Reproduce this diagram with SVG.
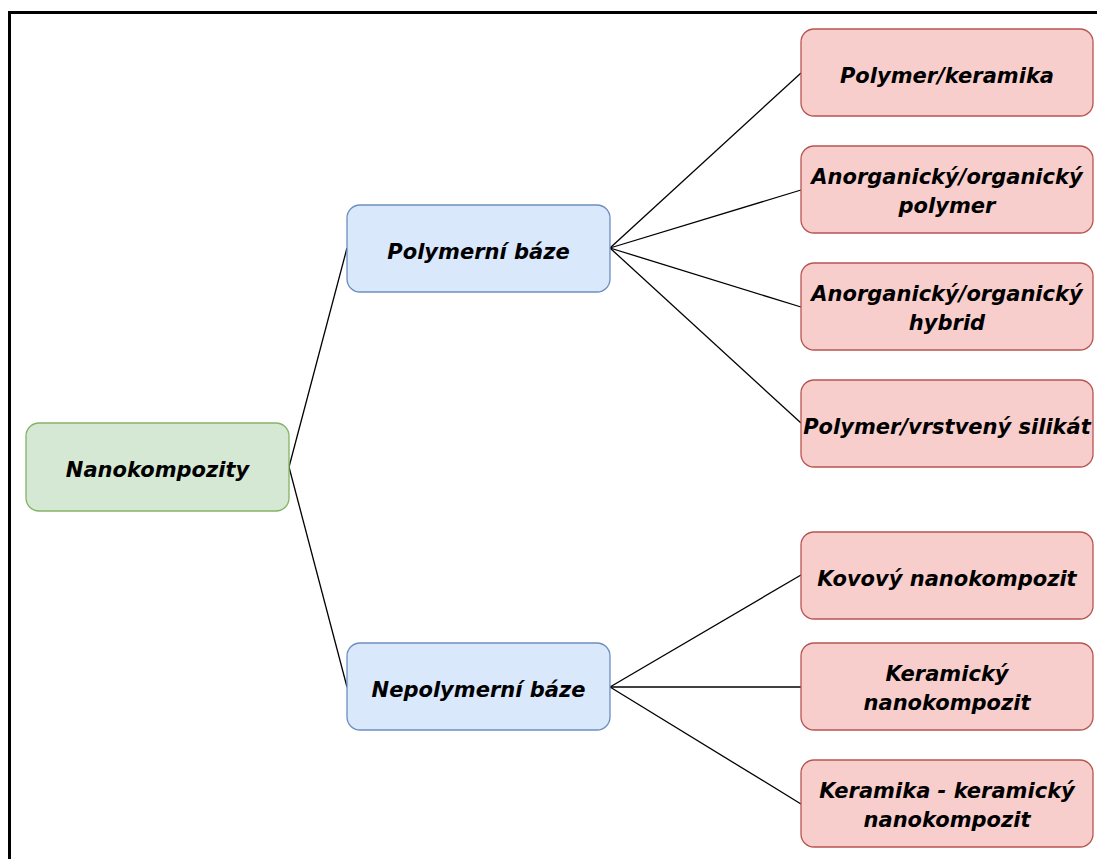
<svg xmlns="http://www.w3.org/2000/svg" width="1097" height="859" viewBox="0 0 1097 859">
<style>
text{font-family:"DejaVu Sans",Verdana,sans-serif;font-weight:bold;font-style:italic;font-size:21px;text-anchor:middle;fill:#000}
.g{fill:#d5e8d4;stroke:#82b366;stroke-width:1.3}
.b{fill:#dae8fc;stroke:#6c8ebf;stroke-width:1.3}
.r{fill:#f8cecc;stroke:#b85450;stroke-width:1.3}
.c line{stroke:#000;stroke-width:1.3}
</style>
<rect x="0" y="0" width="1097" height="859" fill="#fff"/>
<rect x="9.5" y="12.5" width="1100" height="860" fill="none" stroke="#000" stroke-width="3"/>
<g class="c" id="connectors">
<line x1="289" y1="467" x2="347" y2="248"/>
<line x1="289" y1="467" x2="347" y2="687"/>
<line x1="610" y1="248" x2="801" y2="73"/>
<line x1="610" y1="248" x2="801" y2="190"/>
<line x1="610" y1="248" x2="801" y2="307"/>
<line x1="610" y1="248" x2="801" y2="423"/>
<line x1="610" y1="687" x2="801" y2="575"/>
<line x1="610" y1="687" x2="801" y2="687"/>
<line x1="610" y1="687" x2="801" y2="804"/>
</g>
<g id="n-nano"><rect class="g" x="26" y="423" width="263" height="88" rx="13"/><text x="157.5" y="477">Nanokompozity</text></g>
<g id="n-poly"><rect class="b" x="347" y="205" width="263" height="87" rx="13"/><text x="478.5" y="259">Polymerní báze</text></g>
<g id="n-nepoly"><rect class="b" x="347" y="643" width="263" height="87" rx="13"/><text x="478.5" y="697">Nepolymerní báze</text></g>
<g id="n-pk"><rect class="r" x="801" y="29" width="292" height="87" rx="13"/><text x="947" y="83">Polymer/keramika</text></g>
<g id="n-aop"><rect class="r" x="801" y="146" width="292" height="87" rx="13"/><text x="947" y="184">Anorganický/organický</text><text x="947" y="213">polymer</text></g>
<g id="n-aoh"><rect class="r" x="801" y="263" width="292" height="87" rx="13"/><text x="947" y="301">Anorganický/organický</text><text x="947" y="330">hybrid</text></g>
<g id="n-pvs"><rect class="r" x="801" y="380" width="292" height="87" rx="13"/><text x="947" y="434">Polymer/vrstvený silikát</text></g>
<g id="n-kov"><rect class="r" x="801" y="532" width="292" height="87" rx="13"/><text x="947" y="586">Kovový nanokompozit</text></g>
<g id="n-ker"><rect class="r" x="801" y="643" width="292" height="87" rx="13"/><text x="947" y="681">Keramický</text><text x="947" y="710">nanokompozit</text></g>
<g id="n-kk"><rect class="r" x="801" y="760" width="292" height="87" rx="13"/><text x="947" y="798">Keramika - keramický</text><text x="947" y="827">nanokompozit</text></g>
</svg>
